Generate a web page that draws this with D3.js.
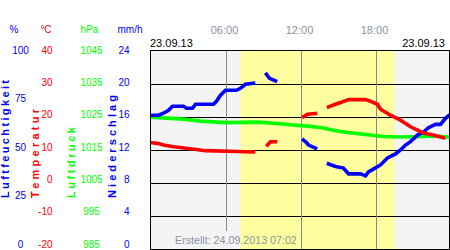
<!DOCTYPE html>
<html>
<head>
<meta charset="utf-8">
<script src="https://cdn.jsdelivr.net/npm/d3@7"></script>
<style>
  body { margin: 0; padding: 0; background: #fff; }
  svg { display: block; font-family: "Liberation Sans", Arial, sans-serif; }
</style>
</head>
<body>
<div id="main"></div>
<script>
// time in hours (0-24) and readings; null marks a gap
const humTimes = [0.08, 0.56, 0.96, 1.36, 1.68, 2.56, 2.8, 3.28, 3.52, 4.96, 5.2, 5.52, 5.92, 6.8, 7.12, 7.52, 8.16, 8.6,
    9.2, 9.44, 9.92, 11.0,
    12.16, 12.4, 12.56, 13.12, 13.6,
    14.16, 14.72, 15.36, 15.76, 16.72, 17.12, 17.36, 17.92, 18.32, 18.88, 19.52, 19.92, 20.32, 20.72, 21.28, 21.76, 22.16, 22.72, 23.12, 23.52, 23.76];
const humValues = [67.5, 67.5, 68.5, 70, 72, 72, 71, 71, 73, 73, 74.5, 77.5, 80, 80, 81, 83, 83.5, null,
    88, 86, 84.7, null,
    55, 53.7, 52.5, 50.9, null,
    43, 41.7, 40.9, 38, 38, 37, 39, 41, 42.5, 46, 48, 50, 52.5, 54.2, 57.5, 59, 61.2, 62.9, 62.9, 65.9, 67.2];

const tempTimes = [0, 0.48, 0.96, 1.76, 3.28, 4.32, 6.88, 8.16, 8.7,
    9.28, 9.52, 9.92, 11.0,
    12.16, 12.48, 13.12, 13.6,
    14.16, 14.72, 15.12, 15.76, 17.12, 17.52, 18.08, 18.32, 19.12, 19.92, 20.72, 21.28, 21.76, 22.56, 23.36];
const tempValues = [12.2, 12.0, 11.5, 11.0, 10.3, 9.8, 9.55, 9.4, null,
    11.5, 12.5, 12.5, null,
    20.0, 20.8, 21.0, null,
    23.0, 23.8, 24.3, 25.2, 25.2, 24.7, 23.8, 22.3, 20.5, 19.0, 17.0, 16.0, 15.1, 14.5, 13.7];

const presTimes = [0, 2.56, 3.92, 5.92, 8.48, 10.08, 11.12, 12.48, 13.52, 14.48, 15.12, 15.92, 17.12, 18.56, 19.92, 21.52, 22.56, 23.76];
const presValues = [1024.9, 1024.3, 1023.7, 1023.25, 1023.4, 1023.0, 1022.6, 1022.2, 1021.8, 1021.0, 1020.6, 1020.2, 1019.65, 1019.05, 1018.9, 1019.05, 1019.2, 1018.9];

const humTicks = [100, 75, 50, 25, 0];
const tempTicks = [40, 30, 20, 10, 0, -10, -20];
const presTicks = [1045, 1035, 1025, 1015, 1005, 995, 985];
const rainTicks = [24, 20, 16, 12, 8, 4, 0];
const hourTicks = [6, 12, 18];
const daylight = [7.12, 19.44];

const dateLabel = '23.09.13';
const createdLabel = 'Erstellt: 24.09.2013 07:02';

const W = 450, H = 250;
const PLOT = {left: 150.5, right: 449.5, top: 50.5, bottom: 249.5};
const BLUE = '#0000ff', RED = '#ff0000', GREEN = '#00ff00', GREY = '#8a93a0';

const svg = d3.select('#main').append('svg').attr('width', W).attr('height', H);

const x = d3.scaleLinear().domain([0, 24]).range([151.5, 451.5]);
const yHum = d3.scaleLinear().domain([0, 100]).range([PLOT.bottom, PLOT.top]);
const yTemp = d3.scaleLinear().domain([-20, 40]).range([PLOT.bottom, PLOT.top]);
const yPres = d3.scaleLinear().domain([985, 1045]).range([PLOT.bottom, PLOT.top]);
// the tick labels sit on a slightly shorter band than the plot
const labelY = (scaleMin, scaleMax) => d3.scaleLinear().domain([scaleMin, scaleMax]).range([244, 50]);

// plot background + daylight band
svg.append('rect')
    .attr('x', PLOT.left).attr('y', PLOT.top)
    .attr('width', PLOT.right - PLOT.left).attr('height', PLOT.bottom - PLOT.top)
    .attr('fill', '#f4f4f4');
svg.append('rect')
    .attr('x', x(daylight[0])).attr('y', PLOT.top)
    .attr('width', x(daylight[1]) - x(daylight[0])).attr('height', PLOT.bottom - PLOT.top)
    .attr('fill', '#ffffa0');

// horizontal grid (every 10 °C)
svg.append('g').selectAll('line').data(tempTicks.slice(1, -1)).enter().append('line')
    .attr('x1', PLOT.left).attr('x2', PLOT.right)
    .attr('y1', (d) => Math.round(yTemp(d)) + 0.5).attr('y2', (d) => Math.round(yTemp(d)) + 0.5)
    .attr('stroke', '#000').attr('stroke-width', 1);

// hour lines
svg.append('g').selectAll('line').data(hourTicks).enter().append('line')
    .attr('x1', (d) => x(d)).attr('x2', (d) => x(d))
    .attr('y1', PLOT.top).attr('y2', (d) => d === 6 ? 231 : PLOT.bottom)
    .attr('stroke', '#888').attr('stroke-width', 1);

svg.append('g').selectAll('text').data(hourTicks).enter().append('text')
    .attr('x', (d) => x(d) - 2).attr('y', 34)
    .attr('text-anchor', 'middle').attr('font-size', 11).attr('fill', GREY)
    .text((d) => d3.format('02d')(d) + ':00');

// data lines
svg.append('clipPath').attr('id', 'plotclip').append('rect')
    .attr('x', PLOT.left).attr('y', PLOT.top)
    .attr('width', PLOT.right - PLOT.left).attr('height', PLOT.bottom - PLOT.top);
const series = svg.append('g').attr('clip-path', 'url(#plotclip)');

const drawSeries = (times, values, yScale, colour) => {
    const pts = times.map((t, i) => ({t: t, v: values[i]}));
    const line = d3.line()
        .defined((d) => d.v !== null)
        .x((d) => x(d.t))
        .y((d) => yScale(d.v));
    series.append('path')
        .attr('d', line(pts))
        .attr('fill', 'none')
        .attr('stroke', colour)
        .attr('stroke-width', 3.6)
        .attr('stroke-linecap', 'square')
        .attr('stroke-linejoin', 'miter');
};
drawSeries(presTimes, presValues, yPres, GREEN);
drawSeries(humTimes, humValues, yHum, BLUE);
drawSeries(tempTimes, tempValues, yTemp, RED);

// frame
svg.append('rect')
    .attr('x', PLOT.left).attr('y', PLOT.top)
    .attr('width', PLOT.right - PLOT.left).attr('height', PLOT.bottom - PLOT.top)
    .attr('fill', 'none').attr('stroke', '#000').attr('stroke-width', 1);

// dates + created stamp
svg.append('text').attr('x', 150).attr('y', 47).attr('font-size', 11).attr('fill', '#000').text(dateLabel);
svg.append('text').attr('x', 445).attr('y', 47).attr('text-anchor', 'end').attr('font-size', 11).attr('fill', '#000').text(dateLabel);
svg.append('text').attr('x', 175).attr('y', 244).attr('font-size', 10.7).attr('fill', GREY).text(createdLabel);

// unit headers
const headers = [
    {text: '%', x: 14, colour: BLUE},
    {text: '°C', x: 46, colour: RED},
    {text: 'hPa', x: 89.5, colour: GREEN},
    {text: 'mm/h', x: 130, colour: BLUE}
];
svg.append('g').selectAll('text').data(headers).enter().append('text')
    .attr('x', (d) => d.x).attr('y', 33)
    .attr('text-anchor', 'middle').attr('font-size', 10)
    .attr('fill', (d) => d.colour)
    .text((d) => d.text);

// tick label columns
const tickColumn = (ticks, scale, xPos, anchor, colour) => {
    svg.append('g').selectAll('text').data(ticks).enter().append('text')
        .attr('x', xPos).attr('y', (d) => scale(d))
        .attr('dy', '0.35em')
        .attr('text-anchor', anchor).attr('font-size', 10)
        .attr('fill', colour)
        .text((d) => d);
};
tickColumn(humTicks, labelY(0, 100), 20.5, 'middle', BLUE);
tickColumn(tempTicks, labelY(-20, 40), 52.5, 'end', RED);
tickColumn(presTicks, labelY(985, 1045), 91.5, 'middle', GREEN);
tickColumn(rainTicks, labelY(0, 24), 129.5, 'end', BLUE);

// rotated axis titles
const titles = [
    {text: 'Luftfeuchtigkeit', x: 8.5, len: 118, colour: BLUE},
    {text: 'Temperatur', x: 39, len: 89, colour: RED},
    {text: 'Luftdruck', x: 75, len: 71, colour: GREEN},
    {text: 'Niederschlag', x: 116, len: 103, colour: BLUE}
];
svg.append('g').selectAll('text').data(titles).enter().append('text')
    .attr('transform', (d) => `translate(${d.x}, 198) rotate(-90)`)
    .attr('font-size', 11).attr('font-weight', 'bold')
    .attr('textLength', (d) => d.len).attr('lengthAdjust', 'spacing')
    .attr('fill', (d) => d.colour)
    .text((d) => d.text);
</script>
</body>
</html>
